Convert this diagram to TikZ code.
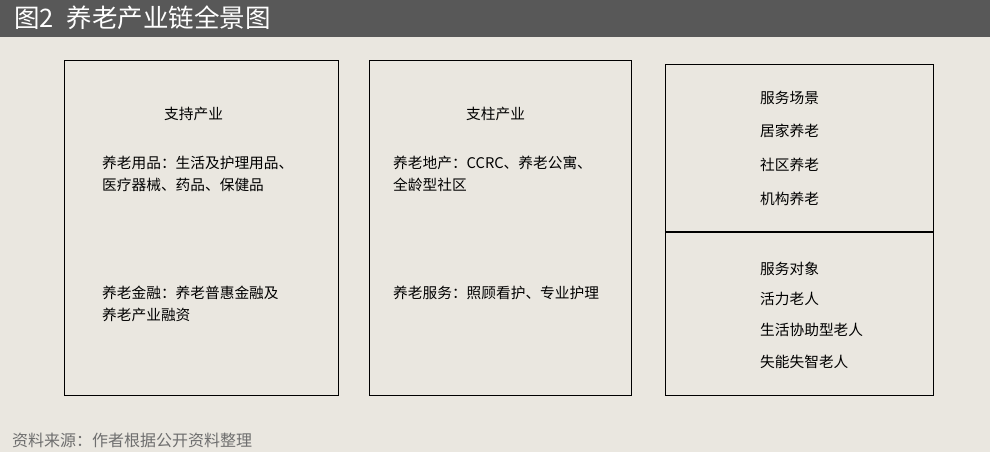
\documentclass[tikz,border=0pt]{standalone}
\usepackage{fontspec}
\setmainfont{Noto Sans CJK SC}
\begin{document}
\begin{tikzpicture}[x=1pt,y=-1pt,
  box/.style={draw=black,line width=1.3pt},
  txt/.style={anchor=west,inner sep=0pt,font=\fontsize{14.7}{21.5}\selectfont,align=left}]
\fill[fill={rgb,255:red,234;green,231;blue,224}] (0,0) rectangle (990,452);
\useasboundingbox (0,0) rectangle (990,452);
\fill[fill={rgb,255:red,88;green,88;blue,88}] (0,0) rectangle (990,37);
\node[anchor=west,text=white,inner sep=0pt,font=\fontsize{25.5}{28}\selectfont] (title) at (14,18) {图2\hspace{0.5em}养老产业链全景图};
\node[box,minimum width=274,minimum height=335,anchor=north west] (b1) at (64,60) {};
\node[box,minimum width=262,minimum height=335,anchor=north west] (b2) at (369,60) {};
\node[box,minimum width=268,minimum height=331,anchor=north west] (b3) at (665,64) {};
\draw[line width=1.3pt] (b3.west |- 0,232) coordinate (d1) -- (b3.east |- 0,232) coordinate (d2);
\node[txt] (t1) at (164,114) {支持产业};
\node[txt] (t2) at (102,174) {养老用品：生活及护理用品、\\医疗器械、药品、保健品};
\node[txt] (t3) at (102,304) {养老金融：养老普惠金融及\\养老产业融资};
\node[txt] (t4) at (466,114) {支柱产业};
\node[txt] (t5) at (393,174) {养老地产：CCRC、养老公寓、\\全龄型社区};
\node[txt] (t6) at (393,293) {养老服务：照顾看护、专业护理};
\node[txt] (s1) at (760,98) {服务场景};
\node[txt] (s2) at (760,131) {居家养老};
\node[txt] (s3) at (760,165) {社区养老};
\node[txt] (s4) at (760,199) {机构养老};
\node[txt] (o1) at (760,269) {服务对象};
\node[txt] (o2) at (760,299) {活力老人};
\node[txt] (o3) at (760,330) {生活协助型老人};
\node[txt] (o4) at (760,362) {失能失智老人};
\node[anchor=west,inner sep=0pt,text={rgb,255:red,110;green,110;blue,110},font=\fontsize{16}{18}\selectfont] (src) at (12,440) {资料来源：作者根据公开资料整理};
\end{tikzpicture}
\end{document}
